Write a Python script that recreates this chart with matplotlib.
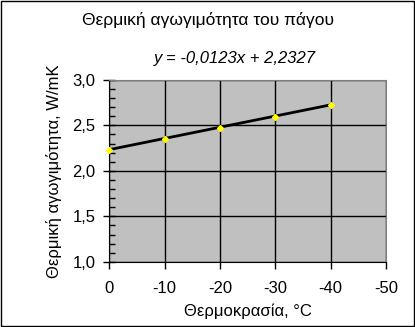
import matplotlib
matplotlib.use("Agg")
import matplotlib.pyplot as plt
import numpy as np
from matplotlib.ticker import FixedLocator, MultipleLocator, FuncFormatter

plt.rcParams['font.family'] = ['Liberation Sans', 'DejaVu Sans']

# δεδομένα
temps = [0, -10, -20, -30, -40]
conductivity = [2.23, 2.35, 2.47, 2.59, 2.72]
slope = -0.0123
intercept = 2.2327
x_ticks = [0, -10, -20, -30, -40, -50]
y_ticks = [1.0, 1.5, 2.0, 2.5, 3.0]

fig = plt.figure(figsize=(4.15, 3.27), dpi=100)
fig.patch.set_facecolor('white')
# πλαίσιο γύρω από το γράφημα
fig.add_artist(plt.Rectangle((0.002, 0.003), 0.995, 0.994, transform=fig.transFigure,
                             fill=False, edgecolor='black', linewidth=1))

ax = fig.add_axes([0.263, 0.199, 0.667, 0.557])
ax.set_facecolor('#c0c0c0')

fit_x = np.array([temps[0], temps[-1]])
ax.plot(fit_x, slope * fit_x + intercept, color='black', linewidth=2, zorder=3)
ax.plot(temps, conductivity, linestyle='none', marker='D', markersize=3,
        color='#ffff00', markeredgecolor='#ffff00', zorder=4, clip_on=False)

ax.set_xlim(0, -50)
ax.set_ylim(1.0, 3.0)
ax.xaxis.set_major_locator(FixedLocator(x_ticks))
ax.yaxis.set_major_locator(FixedLocator(y_ticks))
ax.yaxis.set_minor_locator(MultipleLocator(0.1))
ax.xaxis.set_major_formatter(FuncFormatter(lambda v, p: '%d' % v))
ax.yaxis.set_major_formatter(FuncFormatter(lambda v, p: ('%.1f' % v).replace('.', ',')))

ax.grid(True, which='major', color='black', linewidth=1)
ax.set_axisbelow(True)
ax.tick_params(axis='x', direction='out', length=5, width=1, labelsize=12, pad=9)
ax.tick_params(axis='y', which='major', direction='inout', length=8, width=1, labelsize=12, pad=6)
ax.tick_params(axis='y', which='minor', direction='in', length=4, width=1)

for side in ['top', 'right']:
    ax.spines[side].set_color('#808080')
for side in ['left', 'bottom']:
    ax.spines[side].set_color('black')

ax.set_xlabel('Θερμοκρασία, °C', fontsize=12, labelpad=5)
ax.set_ylabel('Θερμική αγωγιμότητα, W/mK', fontsize=12, labelpad=7)

fig.text(0.50, 0.94, 'Θερμική αγωγιμότητα του πάγου', ha='center', va='center', fontsize=12.5)
fig.text(0.567, 0.82, 'y = -0,0123x + 2,2327', ha='center', va='center',
         fontsize=12, style='italic')

fig.savefig('out.png', dpi=100)
